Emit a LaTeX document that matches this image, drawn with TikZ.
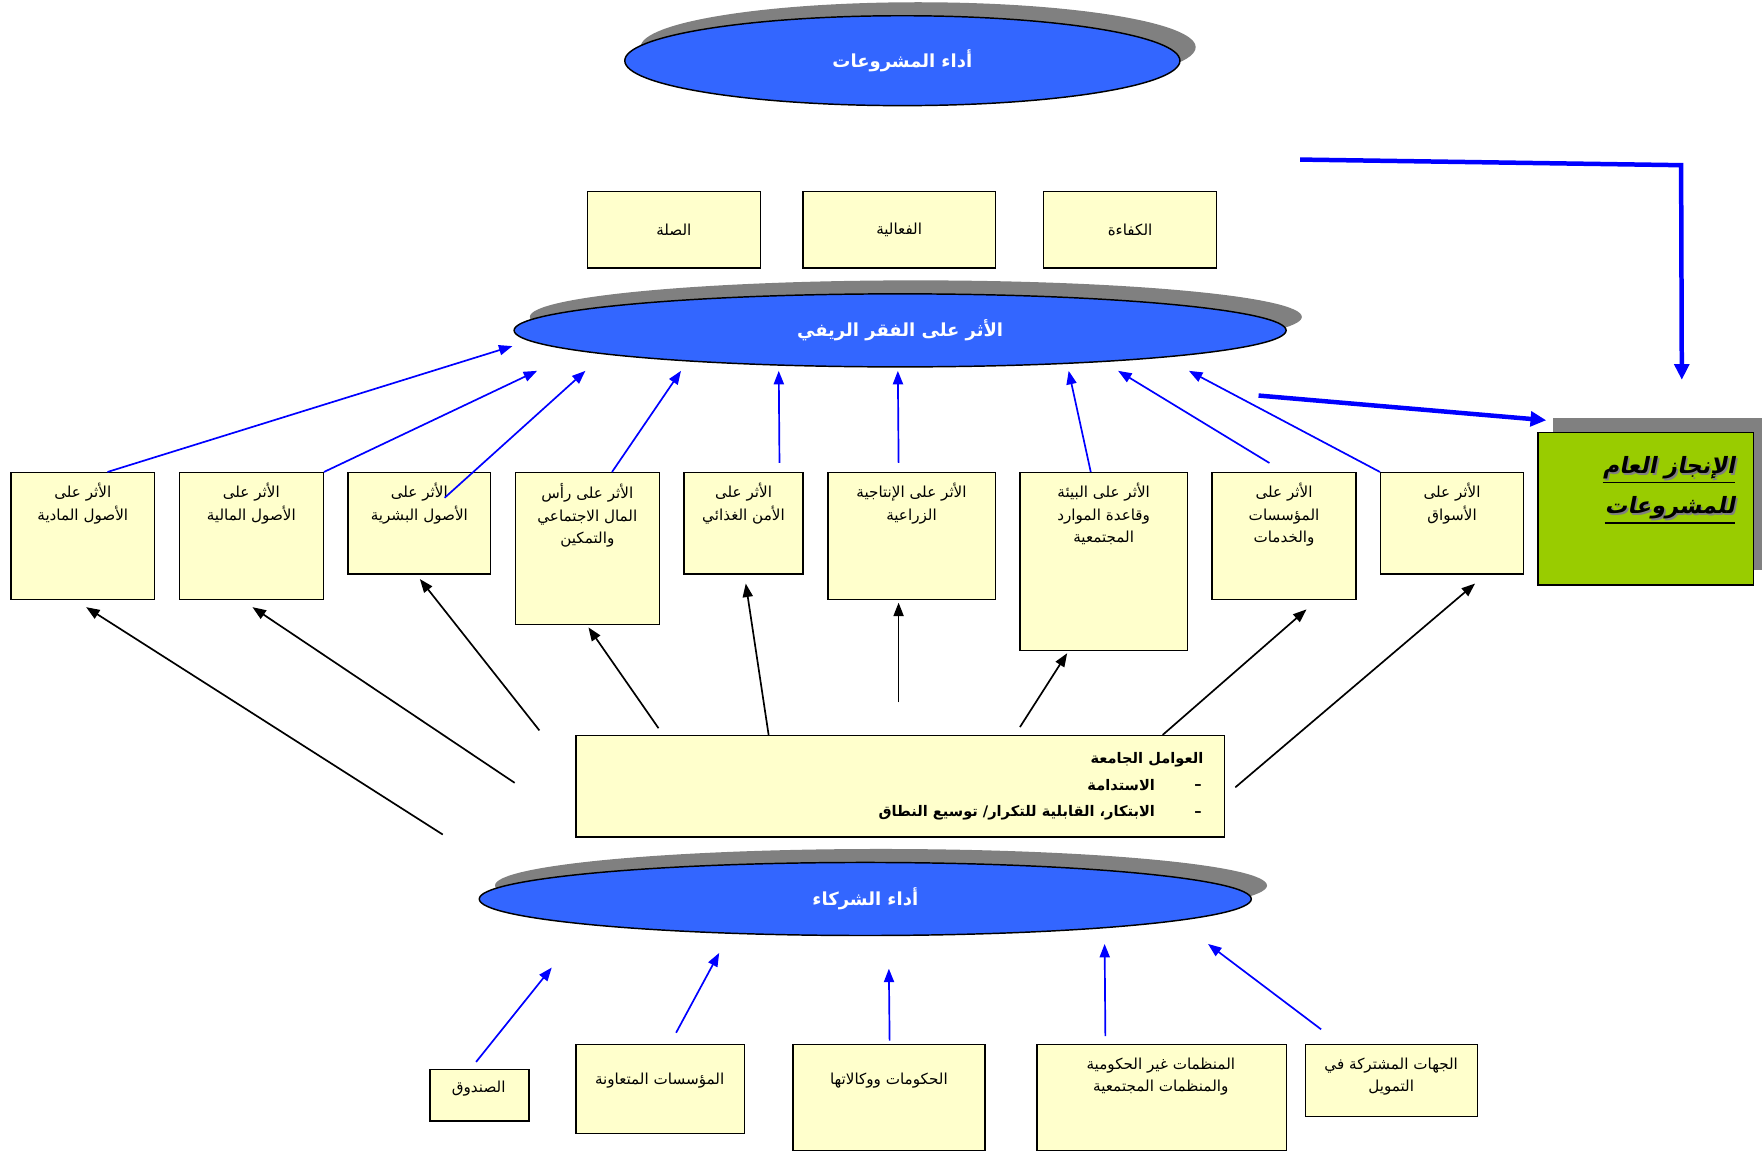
\documentclass[tikz,border=0pt]{standalone}
\usepackage{fontspec}
\usetikzlibrary{shapes.geometric,arrows.meta,shadows,calc}
\TeXXeTstate=1
\newfontfamily\arabicfont[Script=Arabic]{DejaVu Sans}
\newfontfamily\arabicbi[Script=Arabic,FakeSlant=0.2]{DejaVu Sans}
\newcommand{\AR}[1]{{\arabicfont\beginR #1\endR}}
\newcommand{\ARbi}[1]{{\arabicbi\bfseries\beginR #1\endR}}
\definecolor{ellblue}{HTML}{3366FF}
\definecolor{boxyellow}{HTML}{FFFFCC}
\definecolor{greenbox}{HTML}{99CC00}
\definecolor{shadowgray}{HTML}{808080}
\definecolor{arrowblue}{HTML}{0000FF}
\tikzset{
  ybox/.style={draw=black, line width=1.3pt, fill=boxyellow, inner sep=0pt, anchor=north west},
  btxt/.style={font=\arabicfont\fontsize{13.5}{20}\selectfont, align=center, inner sep=0pt},
  ctxt/.style={font=\arabicfont\bfseries\fontsize{13}{16}\selectfont, inner sep=0pt},
  ell/.style={ellipse, draw=black, line width=1.3pt, fill=ellblue, text=white, inner sep=0pt,
    font=\arabicfont\bfseries\fontsize{16}{19}\selectfont,
    general shadow={fill=shadowgray, shadow xshift=14pt, shadow yshift=12pt}},
  barrow/.style={draw=arrowblue, line width=1.5pt, -{Triangle[length=12pt,width=9pt]}},
  karrow/.style={draw=black, line width=1.5pt, -{Triangle[length=12pt,width=9pt]}},
  tarrow/.style={draw=arrowblue, line width=4pt, -{Triangle[length=14pt,width=13pt]}},
}
\begin{document}
\begin{tikzpicture}[x=1pt,y=-1pt]
\fill[white] (0,0) rectangle (1568,1025);
\useasboundingbox (0,0) rectangle (1568,1025);

% ellipses
\node[ell, minimum width=494pt, minimum height=80pt] (e1) at (803,54) {\AR{أداء المشروعات}};
\node[ell, minimum width=687pt, minimum height=65pt] (e2) at (801,294) {\AR{الأثر على الفقر الريفي}};
\node[ell, minimum width=687pt, minimum height=65pt] (e3) at (770,800) {\AR{أداء الشركاء}};

% row 2 boxes
\node[ybox, minimum width=154pt, minimum height=68pt] (r1) at (522,170) {};
\node[btxt] at (r1.center) {\AR{الصلة}};
\node[ybox, minimum width=171pt, minimum height=68pt] (r2) at (714,170) {};
\node[btxt] at (r2.center) {\AR{الفعالية}};
\node[ybox, minimum width=154pt, minimum height=68pt] (r3) at (928,170) {};
\node[btxt] at (r3.center) {\AR{الكفاءة}};

% row 3 boxes
\node[ybox, minimum width=128pt, minimum height=113pt] (b1) at (9,420) {};
\node[btxt, anchor=north] at ([yshift=-10pt]b1.north) {\AR{الأثر على}\\\AR{الأصول المادية}};
\node[ybox, minimum width=128pt, minimum height=113pt] (b2) at (159,420) {};
\node[btxt, anchor=north] at ([yshift=-10pt]b2.north) {\AR{الأثر على}\\\AR{الأصول المالية}};
\node[ybox, minimum width=127pt, minimum height=90pt] (b3) at (309,420) {};
\node[btxt, anchor=north] at ([yshift=-10pt]b3.north) {\AR{الأثر على}\\\AR{الأصول البشرية}};
\node[ybox, minimum width=128pt, minimum height=135pt] (b4) at (458,420) {};
\node[btxt, anchor=north] at ([yshift=-10pt]b4.north) {\AR{الأثر على رأس}\\\AR{المال الاجتماعي}\\\AR{والتمكين}};
\node[ybox, minimum width=106pt, minimum height=90pt] (b5) at (608,420) {};
\node[btxt, anchor=north] at ([yshift=-10pt]b5.north) {\AR{الأثر على}\\\AR{الأمن الغذائي}};
\node[ybox, minimum width=149pt, minimum height=113pt] (b6) at (736,420) {};
\node[btxt, anchor=north] at ([yshift=-10pt]b6.north) {\AR{الأثر على الإنتاجية}\\\AR{الزراعية}};
\node[ybox, minimum width=149pt, minimum height=158pt] (b7) at (907,420) {};
\node[btxt, anchor=north] at ([yshift=-10pt]b7.north) {\AR{الأثر على البيئة}\\\AR{وقاعدة الموارد}\\\AR{المجتمعية}};
\node[ybox, minimum width=128pt, minimum height=113pt] (b8) at (1078,420) {};
\node[btxt, anchor=north] at ([yshift=-10pt]b8.north) {\AR{الأثر على}\\\AR{المؤسسات}\\\AR{والخدمات}};
\node[ybox, minimum width=127pt, minimum height=90pt] (b9) at (1228,420) {};
\node[btxt, anchor=north] at ([yshift=-10pt]b9.north) {\AR{الأثر على}\\\AR{الأسواق}};

% green box
\node[draw=black, line width=1.3pt, fill=greenbox, inner sep=0pt, anchor=north west,
  minimum width=192pt, minimum height=136pt,
  general shadow={fill=shadowgray, shadow xshift=13pt, shadow yshift=13pt}] (gb) at (1368,384) {};
\node[font=\fontsize{20}{24}\selectfont, text=shadowgray, inner sep=0pt, anchor=east] at (1545.5,418) {\ARbi{الإنجاز العام}};
\node[font=\fontsize{20}{24}\selectfont, inner sep=0pt, anchor=east] (g1) at (1544,416) {\ARbi{الإنجاز العام}};
\node[font=\fontsize{20}{24}\selectfont, text=shadowgray, inner sep=0pt, anchor=east] at (1545.5,454) {\ARbi{للمشروعات}};
\node[font=\fontsize{20}{24}\selectfont, inner sep=0pt, anchor=east] (g2) at (1544,452) {\ARbi{للمشروعات}};
\draw[line width=1.5pt] ([yshift=-3pt]g1.south west) -- ([yshift=-3pt]g1.south east);
\draw[line width=1.5pt] ([yshift=-3pt]g2.south west) -- ([yshift=-3pt]g2.south east);

% central box
\node[ybox, minimum width=577pt, minimum height=90pt] (cb) at (512,654) {};
\node[ctxt, anchor=east] (c1) at (1071,676) {\AR{العوامل الجامعة}};
\node[ctxt] (d1) at (1066,700) {–};
\node[ctxt, anchor=east] (c2) at (1028,699) {\AR{الاستدامة}};
\node[ctxt] (d2) at (1066,724) {–};
\node[ctxt, anchor=east] (c3) at (1028,723) {\AR{الابتكار، القابلية للتكرار/ توسيع النطاق}};

% bottom boxes
\node[ybox, minimum width=88pt, minimum height=46pt] (p1) at (382,951) {};
\node[btxt] at (426,969) {\AR{الصندوق}};
\node[ybox, minimum width=150pt, minimum height=79pt] (p2) at (512,929) {};
\node[btxt] at (587,962) {\AR{المؤسسات المتعاونة}};
\node[ybox, minimum width=171pt, minimum height=94pt] (p3) at (705,929) {};
\node[btxt] at (791,962) {\AR{الحكومات ووكالاتها}};
\node[ybox, minimum width=222pt, minimum height=94pt] (p4) at (922,929) {};
\node[btxt] at (1033,958) {\AR{المنظمات غير الحكومية}\\\AR{والمنظمات المجتمعية}};
\node[ybox, minimum width=153pt, minimum height=64pt] (p5) at (1161,929) {};
\node[btxt] at (1238,958) {\AR{الجهات المشتركة في}\\\AR{التمويل}};

% blue arrows rows 3 -> e2
\draw[barrow] ([xshift=22pt]b1.north) -- ($(e2.center)+(-345,14)$);
\draw[barrow] (b2.north east) -- ($(e2.center)+(-323,36)$);
\draw[barrow] ($(b3.north)+(22.5,23)$) -- ($(e2.center)+(-280,36)$);
\draw[barrow] ([xshift=22pt]b4.north) -- ($(e2.center)+(-195,36)$);
\draw[barrow] ($(b5.north)+(32,-8)$) -- ($(e2.center)+(-108,36)$);
\draw[barrow] ($(b6.north)+(-11.5,-8)$) -- ($(e2.center)+(-2,36)$);
\draw[barrow] ([xshift=-11.5pt]b7.north) -- ($(e2.center)+(150,36)$);
\draw[barrow] ($(b8.north)+(-13,-8)$) -- ($(e2.center)+(194,36)$);
\draw[barrow] (b9.north west) -- ($(e2.center)+(257,36)$);

% black arrows cb -> row 3
\draw[karrow] ($(cb.west)+(-118,43)$) -- ($(b1.south)+(3,6)$);
\draw[karrow] ($(cb.west)+(-54,-3)$) -- ($(b2.south)+(1,6)$);
\draw[karrow] ($(cb.north west)+(-32,-4)$) -- ($(b3.south)+(0.5,4)$);
\draw[karrow] ($(cb.north west)+(74,-6)$) -- ($(b4.south)+(1,2)$);
\draw[karrow] ($(cb.north west)+(172,0)$) -- ($(b5.south)+(2,8)$);
\draw[karrow] ($(cb.north)+(-1.5,-29)$) -- ($(b6.south)+(-11.5,2)$);
\draw[karrow] ($(cb.north)+(106.5,-7)$) -- ($(b7.south)+(-32.5,2)$);
\draw[karrow] ($(cb.north)+(233.5,0)$) -- ($(b8.south)+(20,8)$);
\draw[karrow] ($(cb.east)+(9,1)$) -- ($(b9.south)+(20.5,8)$);

% blue arrows bottom -> e3
\draw[barrow] ($(p1.north)+(-3,-6)$) -- ($(e3.center)+(-279,61)$);
\draw[barrow] ($(p2.north)+(14,-10)$) -- ($(e3.center)+(-130,48)$);
\draw[barrow] ($(p3.north)+(0.5,-3)$) -- ($(e3.center)+(21,62)$);
\draw[barrow] ($(p4.north)+(-50,-7)$) -- ($(e3.center)+(213,40)$);
\draw[barrow] ($(p5.north)+(-62.5,-13)$) -- ($(e3.center)+(305,40)$);

% thick blue connectors to green box
\coordinate (t1) at (1157,142);
\coordinate (t2) at (1120,352);
\draw[tarrow] (t1) -- (1496,147) -- ($(gb.north)+(32,-46)$);
\draw[tarrow] (t2) -- ($(gb.north west)+(8,-10)$);
\end{tikzpicture}
\end{document}
